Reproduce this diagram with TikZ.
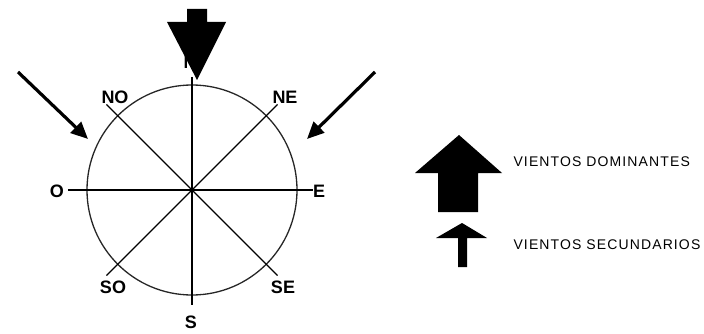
\documentclass[tikz,border=0pt]{standalone}
\usepackage{fontspec}
\setmainfont{Liberation Sans}
\usetikzlibrary{arrows.meta}

\begin{document}
\begin{tikzpicture}[x=1pt, y=-1pt, every node/.style={font=\bfseries\fontsize{18}{18}\selectfont},
	legend/.style={anchor=west, font=\fontsize{14}{14}\selectfont\addfontfeature{LetterSpace=8}}, >={Triangle[length=17pt,width=15pt]}]
	\useasboundingbox (0,0) rectangle (704,334);
	\coordinate (c) at (192,190);
	\node (n) at (190,62) {N};
	\draw[line width=1.3pt, black!85] (c) circle[radius=105];
	\draw[line width=1.3pt] (192,77) -- (192,305);
	\draw[line width=1.3pt] (68,190) -- (313,190);
	\foreach \a in {45,135} {\draw[line width=1.1pt] (c) ++(\a:121) -- ++(\a+180:242);}
	\node (no) at (115,97) {NO};
	\node (ne) at (285,97) {NE};
	\node (o) at (57,191) {O};
	\node (e) at (319,191) {E};
	\node (so) at (113,287) {SO};
	\node (se) at (283,287) {SE};
	\node (s) at (191,322) {S};
	% vientos dominantes (norte)
	\fill (187,9) -- (207,9) -- (207,22) -- (226,22) -- (197,80) -- (167,22) -- (187,22) -- cycle;
	% vientos secundarios
	\coordinate (nwtail) at (18,72); \coordinate (nwtip) at (88,139);
	\coordinate (netail) at (375,72); \coordinate (netip) at (307,139);
	\draw[->, line width=3.2pt] (nwtail) -- (nwtip);
	\draw[->, line width=3.2pt] (netail) -- (netip);
	% leyenda
	\fill (459,135) -- (502,173) -- (478,173) -- (478,212) -- (438,212) -- (438,173) -- (415,173) -- cycle;
	\fill (462,223) -- (487,238) -- (467,238) -- (467,267) -- (458,267) -- (458,238) -- (436,238) -- cycle;
	\node[legend] (dom) at (510,162) {VIENTOS DOMINANTES};
	\node[legend] (sec) at (510,245) {VIENTOS SECUNDARIOS};
\end{tikzpicture}
\end{document}
